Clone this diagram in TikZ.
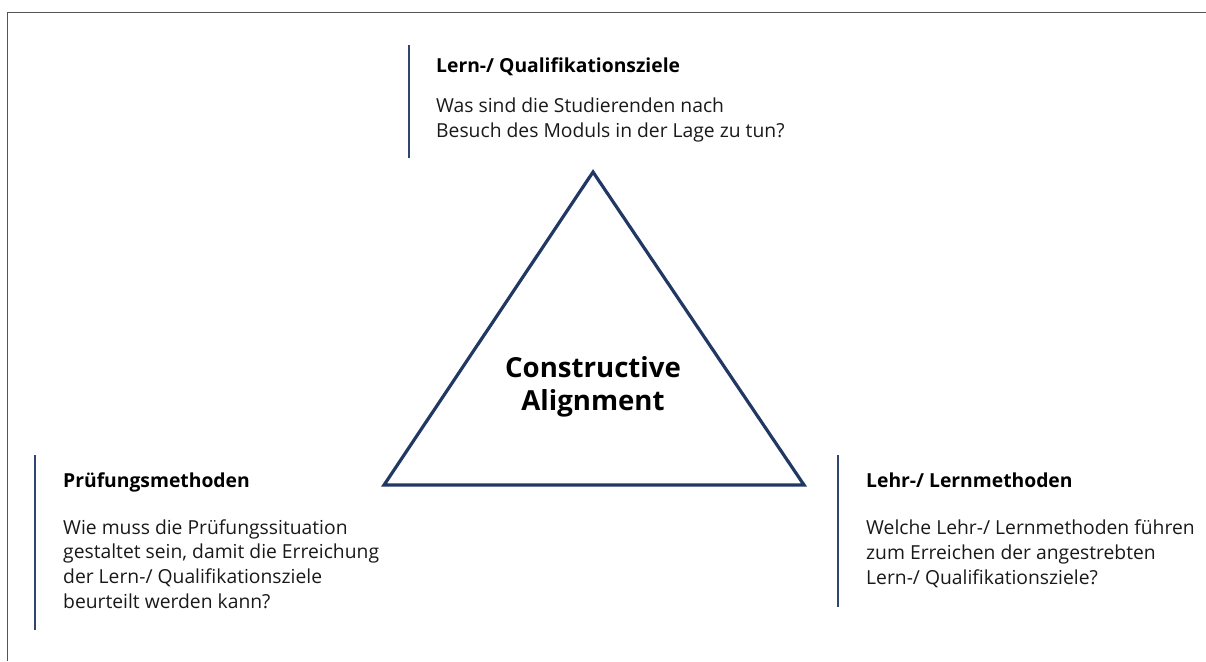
\documentclass[tikz,border=0pt]{standalone}
\usepackage{fontspec}
\setmainfont{Open Sans}
\begin{document}
\begin{tikzpicture}[x=1pt,y=-1pt,
  frameline/.style={draw=black!67,line width=1.5pt},
  trianglestyle/.style={draw=navy,line width=3.2pt,line join=miter},
  barline/.style={draw=barblue,line width=2pt},
  headtext/.style={anchor=base west,inner sep=0pt,font=\fontsize{19.3}{24}\selectfont\bfseries,text=black},
  bodytext/.style={anchor=base west,inner sep=0pt,align=left,font=\fontsize{19.3}{24.6}\selectfont,text=black!90},
  centertext/.style={align=center,anchor=base,inner sep=0pt,font=\fontsize{27.6}{33}\selectfont\bfseries,text=black}]
\definecolor{navy}{HTML}{223864}
\definecolor{barblue}{HTML}{2F4675}
\useasboundingbox (0,0) rectangle (1206,661);
% outer frame (top and left edges)
\draw[frameline] (7.5,661) -- (7.5,12.5) -- (1206,12.5);
% triangle
\coordinate (apex) at (593,172);
\coordinate (bl) at (384,485);
\coordinate (br) at (804,485);
\draw[trianglestyle] (apex) -- (br) -- (bl) -- cycle;
% multi-line nodes are placed by the baseline of their last line
\node[centertext] (ca) at (593,410) {Constructive\\Alignment};
% top block
\coordinate (tb1) at (409,45);
\coordinate (tb2) at (409,158);
\draw[barline] (tb1) -- (tb2);
\node[headtext] (th) at (436,72) {Lern-/ Qualifikationsziele};
\node[bodytext] (tt) at (436,137) {Was sind die Studierenden nach\\Besuch des Moduls in der Lage zu tun?};
% left block
\coordinate (lb1) at (35,455);
\coordinate (lb2) at (35,630);
\draw[barline] (lb1) -- (lb2);
\node[headtext] (lh) at (63,487) {Prüfungsmethoden};
\node[bodytext] (lt) at (63,608) {Wie muss die Prüfungssituation\\gestaltet sein, damit die Erreichung\\der Lern-/ Qualifikationsziele\\beurteilt werden kann?};
% right block
\coordinate (rb1) at (838,455);
\coordinate (rb2) at (838,607);
\draw[barline] (rb1) -- (rb2);
\node[headtext] (rh) at (866,487) {Lehr-/ Lernmethoden};
\node[bodytext] (rt) at (866,584) {Welche Lehr-/ Lernmethoden führen\\zum Erreichen der angestrebten\\Lern-/ Qualifikationsziele?};
\end{tikzpicture}
\end{document}
